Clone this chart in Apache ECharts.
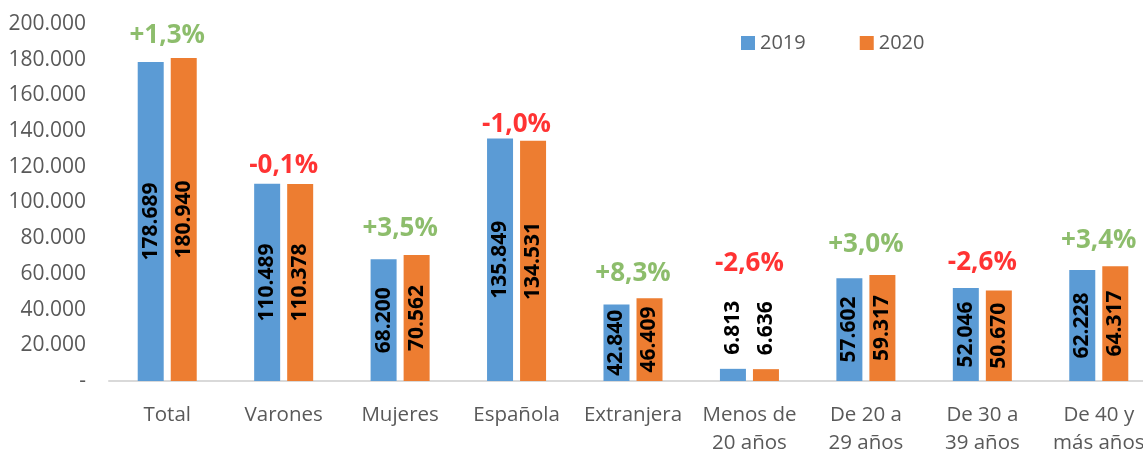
<!DOCTYPE html>
<html>
<head>
<meta charset="utf-8">
<script src="https://cdn.jsdelivr.net/npm/echarts@6/dist/echarts.min.js"></script>
<style>
  html, body { margin: 0; padding: 0; background: #fff; }
  #chart { width: 1143px; height: 450px; }
</style>
</head>
<body>
<div id="chart"></div>
<script>
// categorías
var categories = ['Total', 'Varones', 'Mujeres', 'Española', 'Extranjera',
  'Menos de\n20 años', 'De 20 a\n29 años', 'De 30 a\n39 años', 'De 40 y\nmás años'];
// valores por año
var values2019 = [178689, 110489, 68200, 135849, 42840, 6813, 57602, 52046, 62228];
var values2020 = [180940, 110378, 70562, 134531, 46409, 6636, 59317, 50670, 64317];
// variación y altura (en valor) donde va el texto
var pctText = ['+1,3%', '-0,1%', '+3,5%', '-1,0%', '+8,3%', '-2,6%', '+3,0%', '-2,6%', '+3,4%'];
var pctAnchor = [193600, 120600, 85400, 143700, 60200, 65800, 76500, 66400, 78700];
// eje y
var yTicks = [0, 20000, 40000, 60000, 80000, 100000, 120000, 140000, 160000, 180000, 200000];

var FONT = '"Open Sans", sans-serif';

//separador de miles con punto
function fmt(v) {
  return String(v).replace(/\B(?=(\d{3})+(?!\d))/g, '.');
}

function barData(arr) {
  return arr.map(function (v) {
    // barras muy pequeñas: etiqueta por encima
    if (v < 20000) {
      return {
        value: v,
        label: { position: 'top', align: 'left', verticalAlign: 'middle', distance: 14 }
      };
    }
    return v;
  });
}

function barLabel() {
  return {
    show: true,
    position: 'inside',
    rotate: 90,
    color: '#000',
    fontFamily: FONT,
    fontWeight: 'bold',
    fontSize: 21,
    formatter: function (p) { return fmt(p.value); }
  };
}

var myChart = echarts.init(document.getElementById('chart'));
var option = {
  animation: false,
  textStyle: { fontFamily: FONT },
  legend: {
    top: 28,
    left: 736,
    itemWidth: 14,
    itemHeight: 14,
    itemGap: 54,
    icon: 'rect',
    textStyle: { fontSize: 20, color: '#595959', fontFamily: FONT },
    data: ['2019', '2020']
  },
  grid: { left: 109, right: -14, top: 24, bottom: 69, outerBoundsMode: 'none', containLabel: false },
  xAxis: {
    type: 'category',
    data: categories,
    axisTick: { show: false },
    axisLine: { lineStyle: { color: '#D9D9D9', width: 2 } },
    axisLabel: {
      color: '#595959',
      fontSize: 20.5,
      fontFamily: FONT,
      lineHeight: 28,
      margin: 20,
      interval: 0
    }
  },
  yAxis: {
    type: 'value',
    min: yTicks[0],
    max: yTicks[yTicks.length - 1],
    interval: yTicks[1] - yTicks[0],
    splitLine: { show: false },
    axisLine: { show: false },
    axisTick: { show: false },
    axisLabel: {
      color: '#595959',
      fontSize: 21,
      fontFamily: FONT,
      margin: 23,
      formatter: function (v) { return v === 0 ? '-' : fmt(v); }
    }
  },
  series: [
    {
      name: '2019',
      type: 'bar',
      barWidth: 26,
      barGap: '27%',
      itemStyle: { color: '#5B9BD5' },
      label: barLabel(),
      data: barData(values2019)
    },
    {
      name: '2020',
      type: 'bar',
      barWidth: 26,
      barGap: '27%',
      itemStyle: { color: '#ED7D31' },
      label: barLabel(),
      data: barData(values2020)
    },
    {
      name: 'variacion',
      type: 'scatter',
      symbolSize: 0,
      silent: true,
      z: 5,
      data: pctAnchor.map(function (v, i) {
        return {
          value: v,
          label: {
            show: true,
            position: 'inside',
            formatter: pctText[i],
            fontFamily: FONT,
            fontWeight: 'bold',
            fontSize: 26,
            color: pctText[i].charAt(0) === '+' ? '#70AD47' : '#FF0000'
          }
        };
      })
    }
  ]
};
myChart.setOption(option);
</script>
</body>
</html>
